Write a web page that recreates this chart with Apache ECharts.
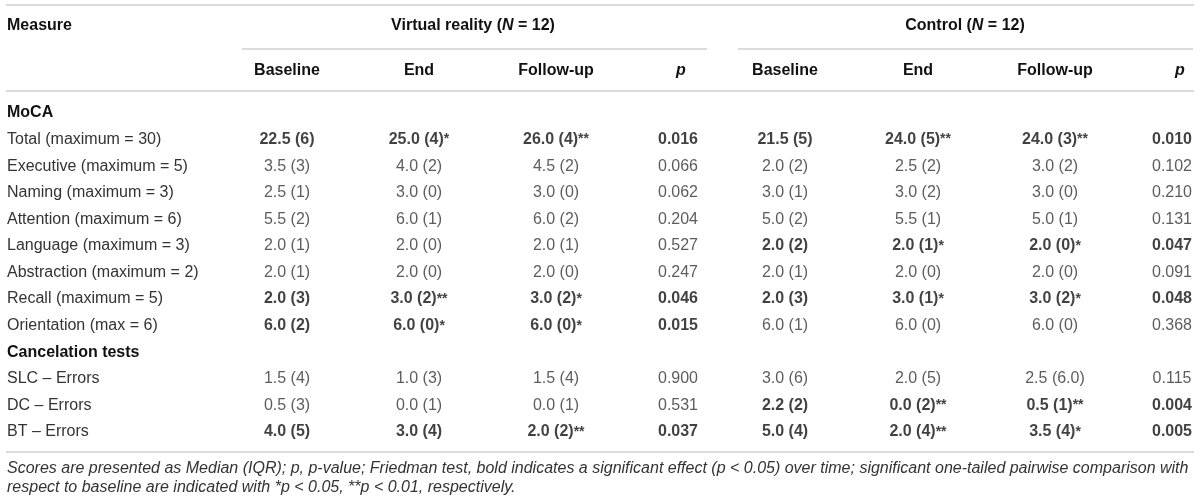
<!DOCTYPE html>
<html lang="en">
<head>
<meta charset="UTF-8">
<title>MoCA and cancelation tests</title>
<style>
  html, body { margin: 0; padding: 0; background: #fff; }
  #main { width: 1200px; height: 504px; }
</style>
</head>
<body>
<div id="main"></div>
<script src="https://cdn.jsdelivr.net/npm/echarts@6.0.0/dist/echarts.min.js"></script>
<script>
// rows of the table (section headers included)
const rowLabels = [
  'MoCA',
  'Total (maximum = 30)',
  'Executive (maximum = 5)',
  'Naming (maximum = 3)',
  'Attention (maximum = 6)',
  'Language (maximum = 3)',
  'Abstraction (maximum = 2)',
  'Recall (maximum = 5)',
  'Orientation (max = 6)',
  'Cancelation tests',
  'SLC \u2013 Errors',
  'DC \u2013 Errors',
  'BT \u2013 Errors'
];
const sectionRows = ['MoCA', 'Cancelation tests'];
const timeLabels = ['Baseline', 'End', 'Follow-up', 'p'];

// virtual reality group, median (IQR)
const vrBaseline = ['', '22.5 (6)', '3.5 (3)', '2.5 (1)', '5.5 (2)', '2.0 (1)', '2.0 (1)', '2.0 (3)', '6.0 (2)', '', '1.5 (4)', '0.5 (3)', '4.0 (5)'];
const vrEnd      = ['', '25.0 (4)*', '4.0 (2)', '3.0 (0)', '6.0 (1)', '2.0 (0)', '2.0 (0)', '3.0 (2)**', '6.0 (0)*', '', '1.0 (3)', '0.0 (1)', '3.0 (4)'];
const vrFollowUp = ['', '26.0 (4)**', '4.5 (2)', '3.0 (0)', '6.0 (2)', '2.0 (1)', '2.0 (0)', '3.0 (2)*', '6.0 (0)*', '', '1.5 (4)', '0.0 (1)', '2.0 (2)**'];
const vrP        = ['', '0.016', '0.066', '0.062', '0.204', '0.527', '0.247', '0.046', '0.015', '', '0.900', '0.531', '0.037'];
const vrSignificant = [false, true, false, false, false, false, false, true, true, false, false, false, true];

// control group, median (IQR)
const ctBaseline = ['', '21.5 (5)', '2.0 (2)', '3.0 (1)', '5.0 (2)', '2.0 (2)', '2.0 (1)', '2.0 (3)', '6.0 (1)', '', '3.0 (6)', '2.2 (2)', '5.0 (4)'];
const ctEnd      = ['', '24.0 (5)**', '2.5 (2)', '3.0 (2)', '5.5 (1)', '2.0 (1)*', '2.0 (0)', '3.0 (1)*', '6.0 (0)', '', '2.0 (5)', '0.0 (2)**', '2.0 (4)**'];
const ctFollowUp = ['', '24.0 (3)**', '3.0 (2)', '3.0 (0)', '5.0 (1)', '2.0 (0)*', '2.0 (0)', '3.0 (2)*', '6.0 (0)', '', '2.5 (6.0)', '0.5 (1)**', '3.5 (4)*'];
const ctP        = ['', '0.010', '0.102', '0.210', '0.131', '0.047', '0.091', '0.048', '0.368', '', '0.115', '0.004', '0.005'];
const ctSignificant = [false, true, false, false, false, true, false, true, false, false, false, true, true];

const footLines = [
  'Scores are presented as Median (IQR); p, p-value; Friedman test, bold indicates a significant effect (p < 0.05) over time; significant one-tailed pairwise comparison with',
  'respect to baseline are indicated with *p < 0.05, **p < 0.01, respectively.'
];

// layout
const FONT = '"Liberation Sans", Arial, sans-serif';
const colX = [287, 419, 556, 678, 785, 918, 1055, 1172];
const headX = [287, 419, 556, 681, 785, 918, 1055, 1180];
const ruleColor = '#cfcfcf';

const columns = [
  { values: vrBaseline, sig: vrSignificant },
  { values: vrEnd, sig: vrSignificant },
  { values: vrFollowUp, sig: vrSignificant },
  { values: vrP, sig: vrSignificant },
  { values: ctBaseline, sig: ctSignificant },
  { values: ctEnd, sig: ctSignificant },
  { values: ctFollowUp, sig: ctSignificant },
  { values: ctP, sig: ctSignificant }
];

const cells = [];
columns.forEach((col, c) => {
  col.values.forEach((txt, r) => {
    if (!txt) return;
    cells.push({ value: [colX[c], r], text: txt, bold: col.sig[r] });
  });
});

function cellLabel(cell) {
  const m = cell.text.match(/^(.*?)(\**)$/);
  const k = cell.bold ? 'b' : 'r';
  let s = '{' + k + '|' + m[1] + '}';
  if (m[2]) s += '{' + k + 's|' + m[2] + '}';
  return s;
}

const richCell = {
  r: { fontFamily: FONT, fontSize: 16, color: '#333' },
  b: { fontFamily: FONT, fontSize: 16, fontWeight: 'bold', color: '#111' },
  rs: { fontFamily: FONT, fontSize: 14, color: '#333' },
  bs: { fontFamily: FONT, fontSize: 14, fontWeight: 'bold', color: '#111' }
};

function headText(x, y, rich, text, align) {
  return {
    type: 'text', x: x, y: y, silent: true,
    style: { text: text, rich: rich, align: align || 'center', verticalAlign: 'middle' }
  };
}
function rule(x1, x2, y) {
  return {
    type: 'line', silent: true,
    shape: { x1: x1, y1: y, x2: x2, y2: y },
    style: { stroke: ruleColor, lineWidth: 1.5 }
  };
}

const headRich = {
  h: { fontFamily: FONT, fontSize: 16, fontWeight: 'bold', fill: '#111' },
  hi: { fontFamily: FONT, fontSize: 16, fontWeight: 'bold', fontStyle: 'italic', fill: '#111' }
};

const graphics = [
  rule(6, 1194, 5),
  rule(242, 707, 49),
  rule(738, 1193, 49),
  rule(6, 1194, 91),
  rule(6, 1194, 452),
  headText(7, 26, headRich, '{h|Measure}', 'left'),
  headText(473, 26, headRich, '{h|Virtual reality (}{hi|N}{h| = 12)}'),
  headText(965, 26, headRich, '{h|Control (}{hi|N}{h| = 12)}')
];
headX.forEach((x, c) => {
  const t = timeLabels[c % 4];
  graphics.push(headText(x, 71, headRich, t === 'p' ? '{hi|p}' : '{h|' + t + '}'));
});
footLines.forEach((line, i) => {
  graphics.push({
    type: 'text', x: 7, y: 469 + i * 19, silent: true,
    style: {
      text: line, align: 'left', verticalAlign: 'middle',
      fontFamily: FONT, fontSize: 16, fontStyle: 'italic', fill: '#333'
    }
  });
});

const chart = echarts.init(document.getElementById('main'), null, { renderer: 'canvas' });
chart.setOption({
  animation: false,
  backgroundColor: '#fff',
  grid: { left: 0, right: 0, top: 99.7, bottom: 58.7 },
  xAxis: { type: 'value', min: 0, max: 1200, show: false },
  yAxis: {
    type: 'category',
    data: rowLabels,
    inverse: true,
    axisLine: { show: false },
    axisTick: { show: false },
    splitLine: { show: false },
    axisLabel: {
      inside: true,
      margin: 7,
      align: 'left',
      formatter: v => sectionRows.includes(v) ? '{s|' + v + '}' : '{r|' + v + '}',
      rich: {
        s: { fontFamily: FONT, fontSize: 16, fontWeight: 'bold', color: '#111' },
        r: { fontFamily: FONT, fontSize: 16, color: '#333' }
      }
    }
  },
  series: [{
    type: 'scatter',
    symbolSize: 0,
    silent: true,
    data: cells.map(c => c.value),
    label: {
      show: true,
      position: 'inside',
      align: 'center',
      verticalAlign: 'middle',
      formatter: p => cellLabel(cells[p.dataIndex]),
      rich: richCell
    }
  }],
  graphic: graphics
});
</script>
</body>
</html>
